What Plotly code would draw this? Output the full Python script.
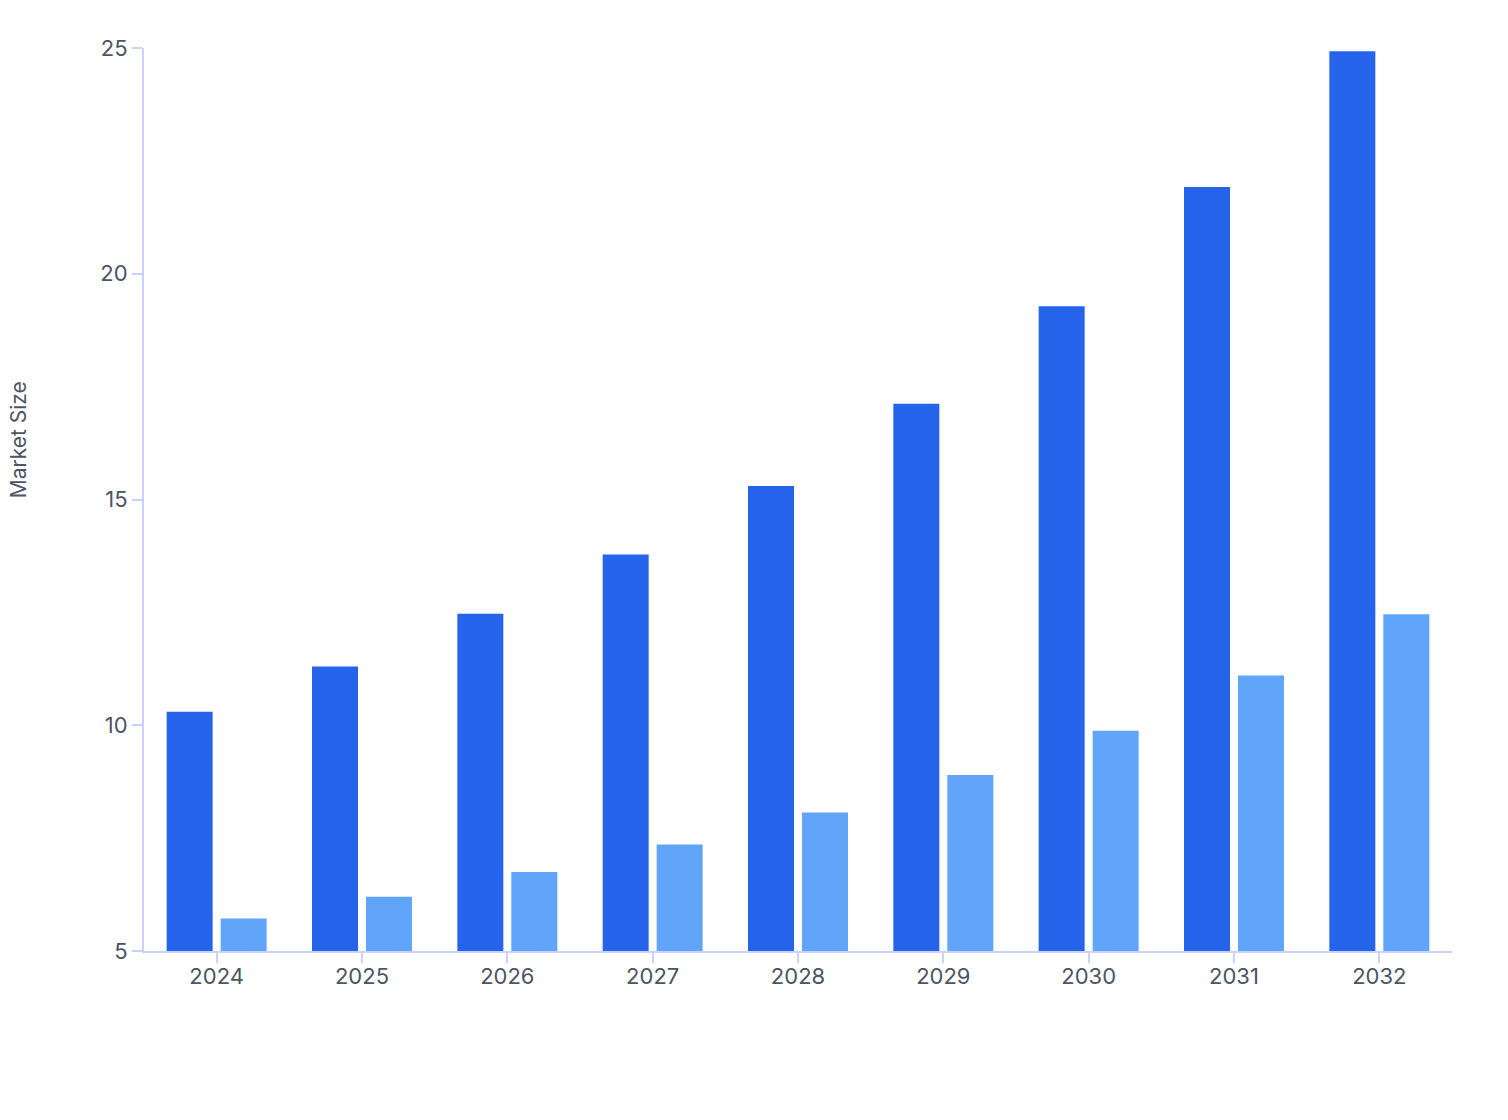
import plotly.graph_objects as go

# data
years = ["2024", "2025", "2026", "2027", "2028", "2029", "2030", "2031", "2032"]
series_a = [10.3, 11.3, 12.47, 13.78, 15.3, 17.12, 19.28, 21.92, 24.93]
series_b = [5.72, 6.2, 6.75, 7.36, 8.07, 8.9, 9.88, 11.1, 12.46]

axis_col = "#c7d2fe"
text_col = "#4b5563"

fig = go.Figure()
fig.add_trace(go.Bar(x=years, y=series_a, marker=dict(color="#2563eb", line=dict(width=0)),
                     showlegend=False))
fig.add_trace(go.Bar(x=years, y=series_b, marker=dict(color="#60a5fa", line=dict(width=0)),
                     showlegend=False))

fig.update_layout(
    width=1508,
    height=1120,
    margin=dict(l=136, r=64, t=40, b=177),
    barmode="group",
    bargap=0.257,
    bargroupgap=0.148,
    paper_bgcolor="white",
    plot_bgcolor="white",
    font=dict(family="Inter", color=text_col, size=22),
    xaxis=dict(
        showline=True, linecolor=axis_col, linewidth=2,
        ticks="outside", tickcolor=axis_col, ticklen=10, tickwidth=2,
        ticklabelstandoff=-5,
        showgrid=False, tickfont=dict(size=22, color=text_col),
    ),
    yaxis=dict(
        range=[5, 25], tickvals=[5, 10, 15, 20, 25],
        showline=True, linecolor=axis_col, linewidth=2,
        ticks="outside", tickcolor=axis_col, ticklen=10, tickwidth=2,
        showgrid=False, zeroline=False, tickfont=dict(size=22, color=text_col),
    ),
    annotations=[dict(
        text="Market Size", xref="paper", yref="paper",
        x=-0.096, y=0.566, xanchor="center", yanchor="middle",
        textangle=-90, showarrow=False, font=dict(size=21, color=text_col),
    )],
)

fig.write_html("out.html")
